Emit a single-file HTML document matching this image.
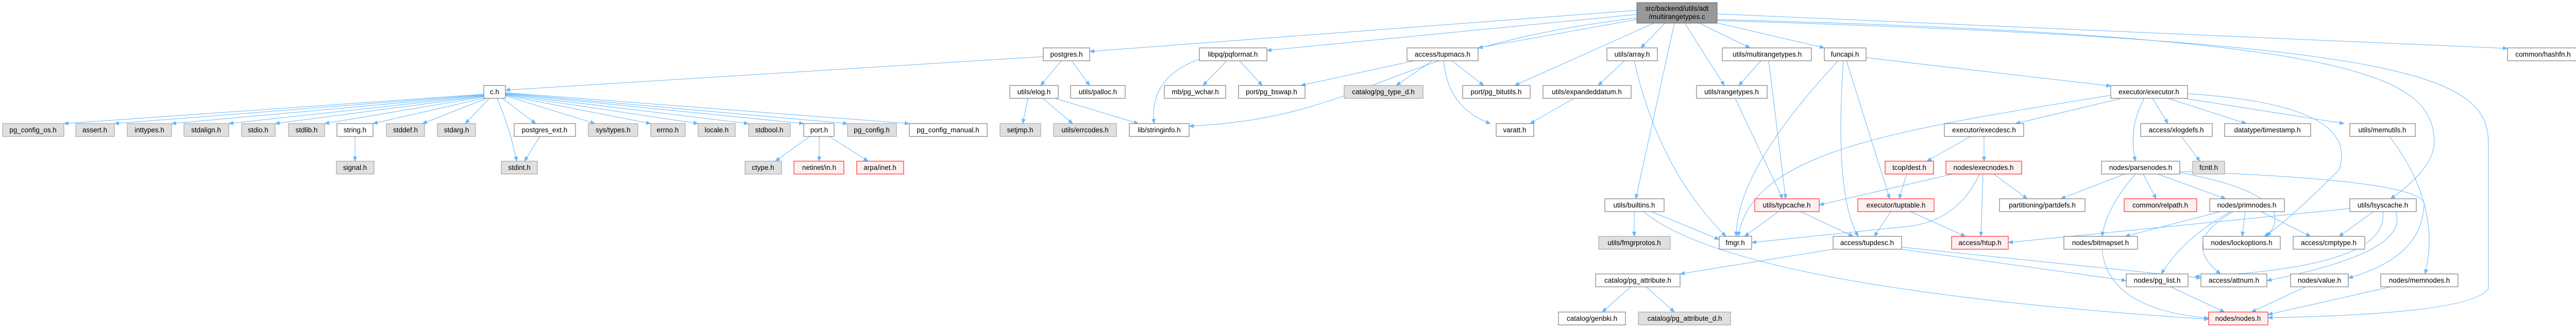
<!DOCTYPE html>
<html><head><meta charset="utf-8"><style>
html,body{margin:0;padding:0;background:#fff;}
svg{display:block;}
text{font-family:"Liberation Sans",sans-serif;font-size:13.5px;fill:#000;text-anchor:middle;}
.n rect{fill:#fff;stroke:#666;stroke-width:1;}
.g rect{fill:#e0e0e0;stroke:#999;stroke-width:1;}
.r rect{fill:#fff0f0;stroke:#f00;stroke-width:1;}
.e{fill:none;stroke:#63b8ff;stroke-width:1;marker-end:url(#a);}
</style></head><body>
<svg width="5011" height="637" viewBox="0 0 5011 637" xmlns="http://www.w3.org/2000/svg">
<defs><marker id="a" markerWidth="10" markerHeight="10" refX="9" refY="5" orient="auto" markerUnits="userSpaceOnUse"><path d="M0,1 L10,5 L0,9 z" fill="#63b8ff"/></marker></defs>
<g>
<!-- top edges -->
<path class="e" d="M3177,20 L2115,100"/>
<path class="e" d="M3177,28 L2459,98"/>
<path class="e" d="M3177,38 L2869,93"/>
<path class="e" d="M3177,35 C2700,90 2650,230 2308,245"/>
<path class="e" d="M3210,45 L2940,166"/>
<path class="e" d="M3232,45 L3185,93"/>
<path class="e" d="M3250,45 L3175,386"/>
<path class="e" d="M3270,45 L3347,166"/>
<path class="e" d="M3298,45 L3397,93"/>
<path class="e" d="M3335,45 L3541,93"/>
<path class="e" d="M3333,27 L4867,94"/>
<path class="e" d="M3333,38 C4600,70 4725,150 4725,280 Q4720,330 4640,386"/>
<path class="e" d="M3333,40 C4700,80 4830,150 4830,280 L4830,560 Q4800,610 4402,617"/>
<!-- postgres -->
<path class="e" d="M2025,110 L981,175"/>
<path class="e" d="M2060,118 L2020,166"/>
<path class="e" d="M2080,118 L2115,166"/>
<!-- c.h -->
<path class="e" d="M939,183 L124,240"/>
<path class="e" d="M939,184 L222,240"/>
<path class="e" d="M939,185 L333,240"/>
<path class="e" d="M939,186 L444,240"/>
<path class="e" d="M939,187 L534,240"/>
<path class="e" d="M940,188 L630,240"/>
<path class="e" d="M942,190 L724,240"/>
<path class="e" d="M945,191 L820,240"/>
<path class="e" d="M950,191 L903,240"/>
<path class="e" d="M965,191 Q990,250 1003,313"/>
<path class="e" d="M975,191 L1040,240"/>
<path class="e" d="M981,186 L1155,240"/>
<path class="e" d="M981,185 L1263,240"/>
<path class="e" d="M981,184 L1355,240"/>
<path class="e" d="M981,183 L1453,240"/>
<path class="e" d="M981,182 L1560,240"/>
<path class="e" d="M981,181 L1645,240"/>
<path class="e" d="M981,180 L1765,240"/>
<path class="e" d="M689,265 L689,313"/>
<path class="e" d="M1048,265 L1018,313"/>
<path class="e" d="M1572,265 L1505,313"/>
<path class="e" d="M1590,265 L1590,313"/>
<path class="e" d="M1610,265 L1685,313"/>
<!-- elog -->
<path class="e" d="M1995,191 L1985,240"/>
<path class="e" d="M2024,191 L2082,240"/>
<path class="e" d="M2048,191 L2210,240"/>
<!-- pqformat -->
<path class="e" d="M2328,115 Q2230,150 2240,240"/>
<path class="e" d="M2381,118 L2335,166"/>
<path class="e" d="M2406,118 L2450,166"/>
<!-- tupmacs -->
<path class="e" d="M2745,118 L2525,166"/>
<path class="e" d="M2780,118 L2710,166"/>
<path class="e" d="M2802,118 Q2810,210 2893,240"/>
<path class="e" d="M2818,118 L2880,166"/>
<path class="e" d="M3055,191 L2970,240"/>
<!-- array -->
<path class="e" d="M3153,118 L3102,166"/>
<path class="e" d="M3172,118 Q3220,330 3350,459"/>
<!-- multirange / range -->
<path class="e" d="M3418,118 L3375,166"/>
<path class="e" d="M3433,118 L3466,386"/>
<path class="e" d="M3368,191 L3460,386"/>
<!-- funcapi -->
<path class="e" d="M3568,118 Q3370,330 3370,459"/>
<path class="e" d="M3578,118 Q3560,380 3607,459"/>
<path class="e" d="M3584,118 L3668,386"/>
<path class="e" d="M3622,112 L4097,167"/>
<!-- executor -->
<path class="e" d="M4118,191 L3912,240"/>
<path class="e" d="M4097,185 C3700,250 3400,290 3374,459"/>
<path class="e" d="M4162,191 Q4130,250 4145,313"/>
<path class="e" d="M4178,191 L4208,240"/>
<path class="e" d="M4208,191 L4360,240"/>
<path class="e" d="M4240,191 L4550,240"/>
<path class="e" d="M4246,182 C4530,200 4560,270 4540,330 Q4440,430 4395,459"/>
<path class="e" d="M3825,265 L3740,313"/>
<path class="e" d="M3851,265 L3851,313"/>
<path class="e" d="M3701,338 L3686,386"/>
<!-- execnodes -->
<path class="e" d="M3790,338 L3531,398"/>
<path class="e" d="M3849,338 L3845,459"/>
<path class="e" d="M3870,338 L3935,386"/>
<path class="e" d="M3842,338 Q3800,430 3700,440 T3400,471"/>
<path class="e" d="M3452,411 L3386,459"/>
<path class="e" d="M3495,411 L3597,459"/>
<path class="e" d="M3670,411 L3638,459"/>
<path class="e" d="M3708,411 L3815,459"/>
<!-- builtins -->
<path class="e" d="M3172,411 L3172,459"/>
<path class="e" d="M3205,411 L3337,465"/>
<path class="e" d="M3190,411 Q3370,560 4287,620"/>
<!-- tupdesc -->
<path class="e" d="M3558,484 L3261,532"/>
<path class="e" d="M3691,480 L4272,540"/>
<path class="e" d="M3691,484 L4127,545"/>
<path class="e" d="M3165,557 L3110,606"/>
<path class="e" d="M3195,557 L3250,606"/>
<path class="e" d="M4234,265 L4270,313"/>
<!-- parsenodes -->
<path class="e" d="M4124,338 L4000,386"/>
<path class="e" d="M4160,338 L4185,386"/>
<path class="e" d="M4188,338 L4320,386"/>
<path class="e" d="M4145,338 Q4090,400 4080,459"/>
<path class="e" d="M4231,335 Q4470,380 4400,459"/>
<path class="e" d="M4231,333 Q4720,350 4705,400 Q4700,500 4558,540"/>
<!-- primnodes -->
<path class="e" d="M4310,411 L4125,459"/>
<path class="e" d="M4358,411 L4352,459"/>
<path class="e" d="M4388,411 L4485,459"/>
<path class="e" d="M4330,411 Q4240,460 4195,532"/>
<path class="e" d="M4335,411 Q4230,470 4310,532"/>
<!-- lsyscache -->
<path class="e" d="M4607,411 L4540,459"/>
<path class="e" d="M4625,411 Q4640,520 4260,537"/>
<path class="e" d="M4650,411 Q4680,490 4400,545"/>
<path class="e" d="M4561,405 L3898,471"/>
<path class="e" d="M4638,265 Q4740,400 4707,532"/>
<!-- to nodes -->
<path class="e" d="M4080,484 Q4090,600 4287,618"/>
<path class="e" d="M4213,557 L4318,606"/>
<path class="e" d="M4475,557 L4370,606"/>
<path class="e" d="M4640,557 L4402,611"/>
</g>

<g style="fill:#999"><rect x="3177" y="5" width="156" height="40" fill="#999" stroke="#666"/></g>
<text x="3255" y="21">src/backend/utils/adt</text><text x="3255" y="37">/multirangetypes.c</text>

<g class="n">
<rect x="2025" y="93" width="90" height="25"/><text x="2070" y="110">postgres.h</text>
<rect x="2328" y="93" width="131" height="25"/><text x="2393" y="110">libpq/pqformat.h</text>
<rect x="2731" y="93" width="138" height="25"/><text x="2800" y="110">access/tupmacs.h</text>
<rect x="3119" y="93" width="98" height="25"/><text x="3168" y="110">utils/array.h</text>
<rect x="3343" y="93" width="173" height="25"/><text x="3430" y="110">utils/multirangetypes.h</text>
<rect x="3541" y="93" width="81" height="25"/><text x="3581" y="110">funcapi.h</text>
<rect x="4867" y="93" width="139" height="25"/><text x="4936" y="110">common/hashfn.h</text>

<rect x="939" y="166" width="42" height="25"/><text x="960" y="183">c.h</text>
<rect x="1960" y="166" width="94" height="25"/><text x="2007" y="183">utils/elog.h</text>
<rect x="2078" y="166" width="106" height="25"/><text x="2131" y="183">utils/palloc.h</text>
<rect x="2260" y="166" width="119" height="25"/><text x="2320" y="183">mb/pg_wchar.h</text>
<rect x="2404" y="166" width="129" height="25"/><text x="2468" y="183">port/pg_bswap.h</text>
<rect x="2839" y="166" width="131" height="25"/><text x="2904" y="183">port/pg_bitutils.h</text>
<rect x="2995" y="166" width="171" height="25"/><text x="3080" y="183">utils/expandeddatum.h</text>
<rect x="3293" y="166" width="137" height="25"/><text x="3361" y="183">utils/rangetypes.h</text>
<rect x="4097" y="166" width="149" height="25"/><text x="4171" y="183">executor/executor.h</text>

<rect x="654" y="240" width="70" height="25"/><text x="689" y="257">string.h</text>
<rect x="998" y="240" width="119" height="25"/><text x="1057" y="257">postgres_ext.h</text>
<rect x="1560" y="240" width="59" height="25"/><text x="1590" y="257">port.h</text>
<rect x="1765" y="240" width="151" height="25"/><text x="1840" y="257">pg_config_manual.h</text>
<rect x="2192" y="240" width="116" height="25"/><text x="2250" y="257">lib/stringinfo.h</text>
<rect x="2904" y="240" width="73" height="25"/><text x="2940" y="257">varatt.h</text>
<rect x="3774" y="240" width="154" height="25"/><text x="3851" y="257">executor/execdesc.h</text>
<rect x="4155" y="240" width="139" height="25"/><text x="4224" y="257">access/xlogdefs.h</text>
<rect x="4318" y="240" width="167" height="25"/><text x="4401" y="257">datatype/timestamp.h</text>
<rect x="4561" y="240" width="127" height="25"/><text x="4624" y="257">utils/memutils.h</text>

<rect x="4079" y="313" width="152" height="25"/><text x="4155" y="330">nodes/parsenodes.h</text>

<rect x="3115" y="386" width="115" height="25"/><text x="3172" y="403">utils/builtins.h</text>
<rect x="3881" y="386" width="166" height="25"/><text x="3964" y="403">partitioning/partdefs.h</text>
<rect x="4289" y="386" width="145" height="25"/><text x="4361" y="403">nodes/primnodes.h</text>
<rect x="4561" y="386" width="129" height="25"/><text x="4625" y="403">utils/lsyscache.h</text>

<rect x="3337" y="459" width="63" height="25"/><text x="3368" y="476">fmgr.h</text>
<rect x="3558" y="459" width="133" height="25"/><text x="3624" y="476">access/tupdesc.h</text>
<rect x="4006" y="459" width="143" height="25"/><text x="4077" y="476">nodes/bitmapset.h</text>
<rect x="4276" y="459" width="150" height="25"/><text x="4351" y="476">nodes/lockoptions.h</text>
<rect x="4451" y="459" width="139" height="25"/><text x="4520" y="476">access/cmptype.h</text>

<rect x="3097" y="532" width="164" height="25"/><text x="3179" y="549">catalog/pg_attribute.h</text>
<rect x="4127" y="532" width="120" height="25"/><text x="4187" y="549">nodes/pg_list.h</text>
<rect x="4272" y="532" width="128" height="25"/><text x="4336" y="549">access/attnum.h</text>
<rect x="4446" y="532" width="112" height="25"/><text x="4502" y="549">nodes/value.h</text>
<rect x="4621" y="532" width="150" height="25"/><text x="4696" y="549">nodes/memnodes.h</text>

<rect x="3025" y="606" width="130" height="25"/><text x="3090" y="623">catalog/genbki.h</text>
</g>

<g class="g">
<rect x="2609" y="166" width="153" height="25"/><text x="2685" y="183">catalog/pg_type_d.h</text>
<rect x="5" y="240" width="119" height="25"/><text x="64" y="257">pg_config_os.h</text>
<rect x="147" y="240" width="75" height="25"/><text x="184" y="257">assert.h</text>
<rect x="247" y="240" width="86" height="25"/><text x="290" y="257">inttypes.h</text>
<rect x="357" y="240" width="87" height="25"/><text x="400" y="257">stdalign.h</text>
<rect x="469" y="240" width="65" height="25"/><text x="501" y="257">stdio.h</text>
<rect x="560" y="240" width="70" height="25"/><text x="595" y="257">stdlib.h</text>
<rect x="750" y="240" width="74" height="25"/><text x="787" y="257">stddef.h</text>
<rect x="849" y="240" width="74" height="25"/><text x="886" y="257">stdarg.h</text>
<rect x="1142" y="240" width="96" height="25"/><text x="1190" y="257">sys/types.h</text>
<rect x="1263" y="240" width="67" height="25"/><text x="1296" y="257">errno.h</text>
<rect x="1355" y="240" width="72" height="25"/><text x="1391" y="257">locale.h</text>
<rect x="1453" y="240" width="81" height="25"/><text x="1493" y="257">stdbool.h</text>
<rect x="1645" y="240" width="95" height="25"/><text x="1692" y="257">pg_config.h</text>
<rect x="1941" y="240" width="79" height="25"/><text x="1980" y="257">setjmp.h</text>
<rect x="2045" y="240" width="122" height="25"/><text x="2106" y="257">utils/errcodes.h</text>
<rect x="653" y="313" width="73" height="25"/><text x="689" y="330">signal.h</text>
<rect x="973" y="313" width="70" height="25"/><text x="1008" y="330">stdint.h</text>
<rect x="1446" y="313" width="71" height="25"/><text x="1481" y="330">ctype.h</text>
<rect x="4256" y="313" width="62" height="25"/><text x="4287" y="330">fcntl.h</text>
<rect x="3103" y="459" width="139" height="25"/><text x="3172" y="476">utils/fmgrprotos.h</text>
<rect x="3180" y="606" width="179" height="25"/><text x="3270" y="623">catalog/pg_attribute_d.h</text>
</g>

<g class="r">
<rect x="1541" y="313" width="97" height="25"/><text x="1590" y="330">netinet/in.h</text>
<rect x="1663" y="313" width="91" height="25"/><text x="1708" y="330">arpa/inet.h</text>
<rect x="3659" y="313" width="94" height="25"/><text x="3706" y="330">tcop/dest.h</text>
<rect x="3777" y="313" width="147" height="25"/><text x="3850" y="330">nodes/execnodes.h</text>
<rect x="3406" y="386" width="125" height="25"/><text x="3468" y="403">utils/typcache.h</text>
<rect x="3606" y="386" width="148" height="25"/><text x="3680" y="403">executor/tuptable.h</text>
<rect x="4123" y="386" width="141" height="25"/><text x="4193" y="403">common/relpath.h</text>
<rect x="3788" y="459" width="110" height="25"/><text x="3843" y="476">access/htup.h</text>
<rect x="4287" y="606" width="115" height="25"/><text x="4344" y="623">nodes/nodes.h</text>
</g>
</svg>
</body></html>
